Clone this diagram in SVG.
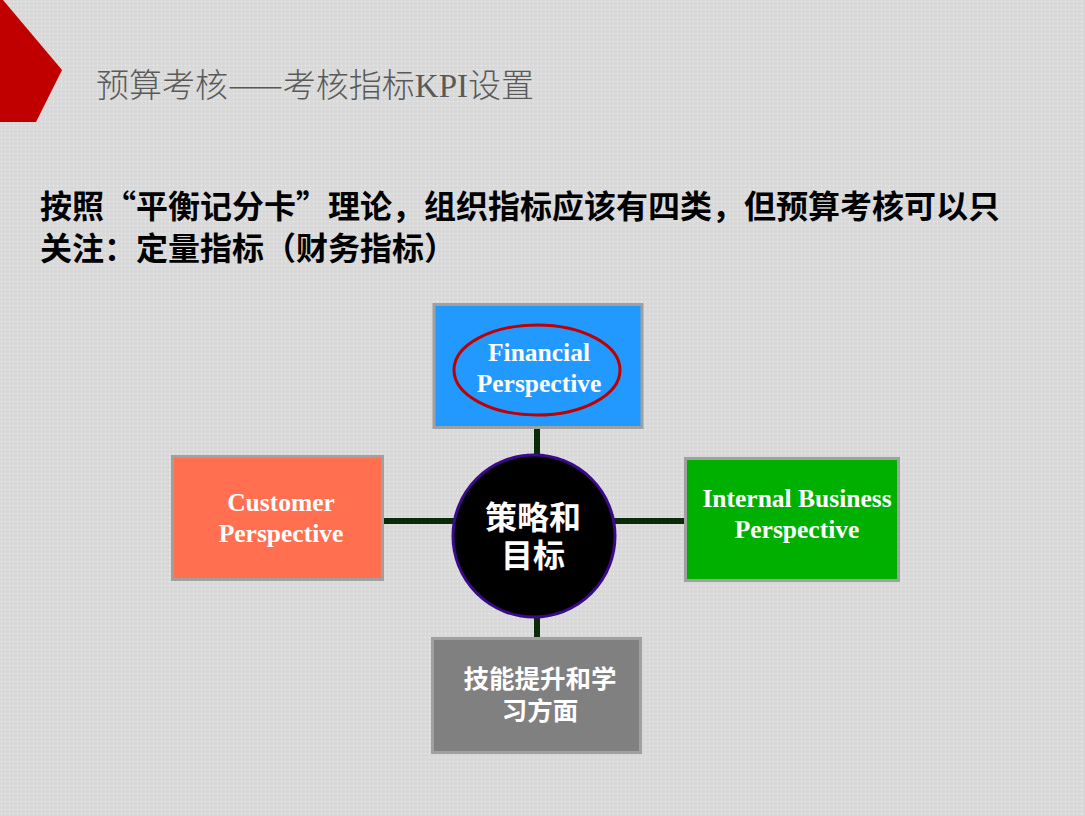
<svg xmlns="http://www.w3.org/2000/svg" width="1085" height="816" viewBox="0 0 1085 816">
<defs>
<pattern id="dots" width="4" height="4" patternUnits="userSpaceOnUse">
<rect width="4" height="4" fill="#d9d9d9"/>
<rect x="1" y="1" width="1" height="1" fill="#f2f2f2"/>
</pattern>
<style>
.box{stroke:#a0a0a0;stroke-width:3}
.en{font-family:"Liberation Serif","Times New Roman",serif;font-weight:bold;font-size:25.5px;fill:#ffffff;text-anchor:middle}
.cj{font-family:"Noto Sans CJK SC","Noto Sans",sans-serif;font-weight:bold;fill:#ffffff;text-anchor:middle}
.conn{stroke:#0a2a0a;stroke-width:6;fill:none}
</style>
</defs>
<rect width="1085" height="816" fill="url(#dots)"/>
<polygon points="0,0 3,0 62,70 36,122 0,122" fill="#c00000"/>
<text x="96" y="97" font-family="Noto Sans CJK SC, sans-serif" font-weight="300" font-size="33" fill="#595959">预算考核——考核指标<tspan font-family="Liberation Serif, serif" font-weight="normal">KPI</tspan>设置</text>
<g font-family="Noto Sans CJK SC, sans-serif" font-weight="bold" font-size="32" fill="#000000">
<text x="40" y="218">按照“平衡记分卡”理论，组织指标应该有四类，但预算考核可以只</text>
<text x="40" y="260">关注：定量指标（财务指标）</text>
</g>
<g id="connectors">
<line class="conn" x1="537" y1="428" x2="537" y2="455"/>
<line class="conn" x1="537" y1="616" x2="537" y2="637"/>
<line class="conn" x1="383" y1="521" x2="454" y2="521"/>
<line class="conn" x1="614" y1="521" x2="685" y2="521"/>
</g>
<g id="financial">
<rect class="box" x="434" y="304.5" width="208" height="123" fill="#2299ff"/>
<ellipse cx="537" cy="370" rx="83" ry="45" fill="none" stroke="#c00000" stroke-width="3"/>
<text class="en" x="539" y="361">Financial</text>
<text class="en" x="539" y="392">Perspective</text>
</g>
<g id="customer">
<rect class="box" x="172.5" y="456.5" width="210" height="123" fill="#ff6f50"/>
<text class="en" x="281" y="511">Customer</text>
<text class="en" x="281" y="542">Perspective</text>
</g>
<g id="internal">
<rect class="box" x="685.5" y="458.5" width="213" height="122" fill="#00b000"/>
<text class="en" x="797" y="507">Internal Business</text>
<text class="en" x="797" y="538">Perspective</text>
</g>
<g id="learning">
<rect class="box" x="432.5" y="638.5" width="208" height="114" fill="#808080"/>
<text class="cj" x="540" y="688" font-size="25.5">技能提升和学</text>
<text class="cj" x="540" y="720" font-size="25.5">习方面</text>
</g>
<g id="center">
<circle cx="534" cy="536" r="81" fill="#000000" stroke="#3a0a8a" stroke-width="3"/>
<text class="cj" x="533" y="529" font-size="32">策略和</text>
<text class="cj" x="533" y="567" font-size="32">目标</text>
</g>
</svg>
